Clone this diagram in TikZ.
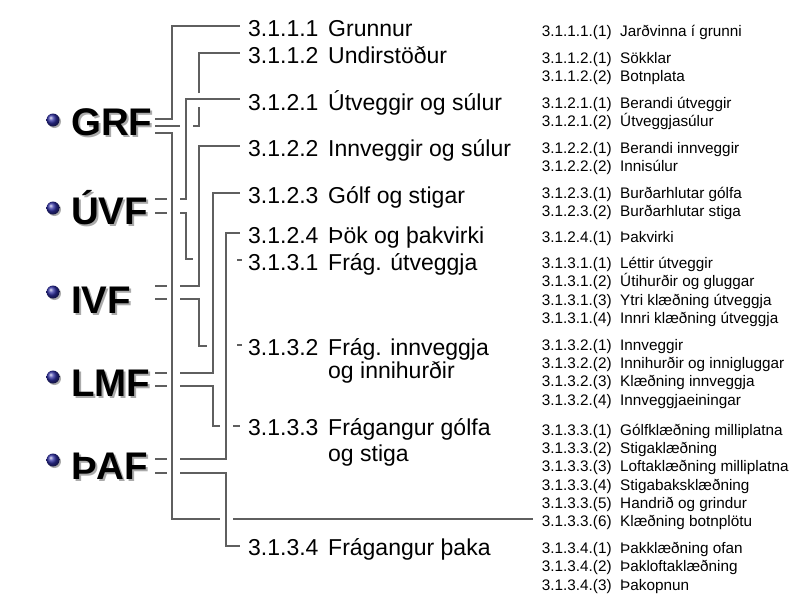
\documentclass[tikz,border=0pt]{standalone}
\usepackage{fontspec}
\setmainfont{Liberation Sans}
\definecolor{linegray}{RGB}{95,95,95}
\definecolor{bulletblue}{RGB}{45,45,160}
\definecolor{shadowgray}{RGB}{170,170,170}
\newcommand{\shadowtext}[1]{\rlap{\hspace{2pt}\raisebox{-2pt}{\textcolor{shadowgray}{#1}}}#1}
\begin{document}
\begin{tikzpicture}[x=1pt,y=-1pt,
  conn/.style={draw=linegray, line width=1.3pt},
  lab/.style={anchor=base west, inner sep=0pt, font=\fontsize{23}{26}\selectfont},
  rlab/.style={anchor=base west, inner sep=0pt, font=\fontsize{15.3}{18}\selectfont},
  big/.style={anchor=base west, inner sep=0pt, font=\fontsize{38.5}{40}\selectfont\bfseries}]
\useasboundingbox[fill=white] (0,0) rectangle (800,600);

% ---------- left labels with bullets ----------
\foreach \name/\txt/\by/\cy in {grf/GRF/135/120, uvf/ÚVF/224.5/208, ivf/IVF/313/292, lmf/LMF/396/377, paf/ÞAF/479.5/460}{
  \fill[shadowgray] (54.5,\cy+1.5) circle (6.5);
  \shade[ball color=bulletblue] (53,\cy) circle (6.5);
  \node[big] (\name) at (71,\by) {\shadowtext{\txt}};
}

% ---------- middle labels ----------
\node[lab] (n1) at (248,36.7) {3.1.1.1};  \node[lab] (t1) at (328,36.7) {Grunnur};
\node[lab] (n2) at (248,63) {3.1.1.2};    \node[lab] (t2) at (328,63) {Undirstöður};
\node[lab] (n3) at (248,110) {3.1.2.1};   \node[lab] (t3) at (328,110) {Útveggir og súlur};
\node[lab] (n4) at (248,156.7) {3.1.2.2}; \node[lab] (t4) at (328,156.7) {Innveggir og súlur};
\node[lab] (n5) at (248,203) {3.1.2.3};   \node[lab] (t5) at (328,203) {Gólf og stigar};
\node[lab] (n6) at (248,243.3) {3.1.2.4}; \node[lab] (t6) at (328,243.3) {Þök og þakvirki};
\node[lab] (n7) at (248,270) {3.1.3.1};   \node[lab] (t7) at (328,270) {Frág. útveggja};
\node[lab] (n8) at (248,355) {3.1.3.2};   \node[lab] (t8) at (328,355) {Frág. innveggja};
\node[lab] (t8b) at (328,378.3) {og innihurðir};
\node[lab] (n9) at (248,435) {3.1.3.3};   \node[lab] (t9) at (328,435) {Frágangur gólfa};
\node[lab] (t9b) at (328,461.7) {og stiga};
\node[lab] (n10) at (248,555) {3.1.3.4};  \node[lab] (t10) at (328,555) {Frágangur þaka};

% ---------- right column ----------
\foreach \i/\num/\txt/\by in {
 1/3.1.1.1.(1)/Jarðvinna í grunni/36.7,
 2/3.1.1.2.(1)/Sökklar/63.3,
 3/3.1.1.2.(2)/Botnplata/81.7,
 4/3.1.2.1.(1)/Berandi útveggir/108.3,
 5/3.1.2.1.(2)/Útveggjasúlur/126.7,
 6/3.1.2.2.(1)/Berandi innveggir/153.3,
 7/3.1.2.2.(2)/Innisúlur/171.7,
 8/3.1.2.3.(1)/Burðarhlutar gólfa/198.3,
 9/3.1.2.3.(2)/Burðarhlutar stiga/216.7,
 10/3.1.2.4.(1)/Þakvirki/242.5,
 11/3.1.3.1.(1)/Léttir útveggir/268.3,
 12/3.1.3.1.(2)/Útihurðir og gluggar/286.7,
 13/3.1.3.1.(3)/Ytri klæðning útveggja/305,
 14/3.1.3.1.(4)/Innri klæðning útveggja/323.3,
 15/3.1.3.2.(1)/Innveggir/350,
 16/3.1.3.2.(2)/Innihurðir og innigluggar/368.3,
 17/3.1.3.2.(3)/Klæðning innveggja/386.7,
 18/3.1.3.2.(4)/Innveggjaeiningar/405,
 19/3.1.3.3.(1)/Gólfklæðning milliplatna/435,
 20/3.1.3.3.(2)/Stigaklæðning/453.3,
 21/3.1.3.3.(3)/Loftaklæðning milliplatna/471.7,
 22/3.1.3.3.(4)/Stigabaksklæðning/490,
 23/3.1.3.3.(5)/Handrið og grindur/508.3,
 24/3.1.3.3.(6)/Klæðning botnplötu/526.7,
 25/3.1.3.4.(1)/Þakklæðning ofan/553.3,
 26/3.1.3.4.(2)/Þakloftaklæðning/571.7,
 27/3.1.3.4.(3)/Þakopnun/590}{
  \node[rlab] (rn\i) at (541.7,\by) {\num};
  \node[rlab] (rt\i) at (620,\by) {\txt};
}

% ---------- connectors ----------
% GRF
\draw[conn] (155,119) -| (172,26) -- (240,26);
\draw[conn] (155,126) -- (180,126);
\draw[conn] (193,126) -| (199,107);
\draw[conn] (199,93) |- (240,53);
\draw[conn] (155,133) -| (172,519) -- (220,519);
\draw[conn] (233,519) -- (533,519);
% UVF
\draw[conn] (155,199) -- (167,199);
\draw[conn] (180,199) -| (186,99) -- (240,99);
\draw[conn] (155,213) -- (167,213);
\draw[conn] (180,213) -| (186,259) -- (193,259);
\draw[conn] (237,260) -- (242,260);
% IVF
\draw[conn] (155,286) -- (167,286);
\draw[conn] (180,286) -| (199,146) -- (240,146);
\draw[conn] (155,299) -- (167,299);
\draw[conn] (180,299) -| (199,346) -- (207,346);
\draw[conn] (237,345) -- (242,345);
% LMF
\draw[conn] (155,373) -- (167,373);
\draw[conn] (180,373) -| (213,193) -- (240,193);
\draw[conn] (155,386) -- (167,386);
\draw[conn] (180,386) -| (213,426) -- (220,426);
\draw[conn] (233,426) -- (240,426);
% PAF
\draw[conn] (155,459) -- (167,459);
\draw[conn] (180,459) -| (226,233) -- (240,233);
\draw[conn] (155,473) -- (167,473);
\draw[conn] (180,473) -| (226,546) -- (240,546);
\end{tikzpicture}
\end{document}
